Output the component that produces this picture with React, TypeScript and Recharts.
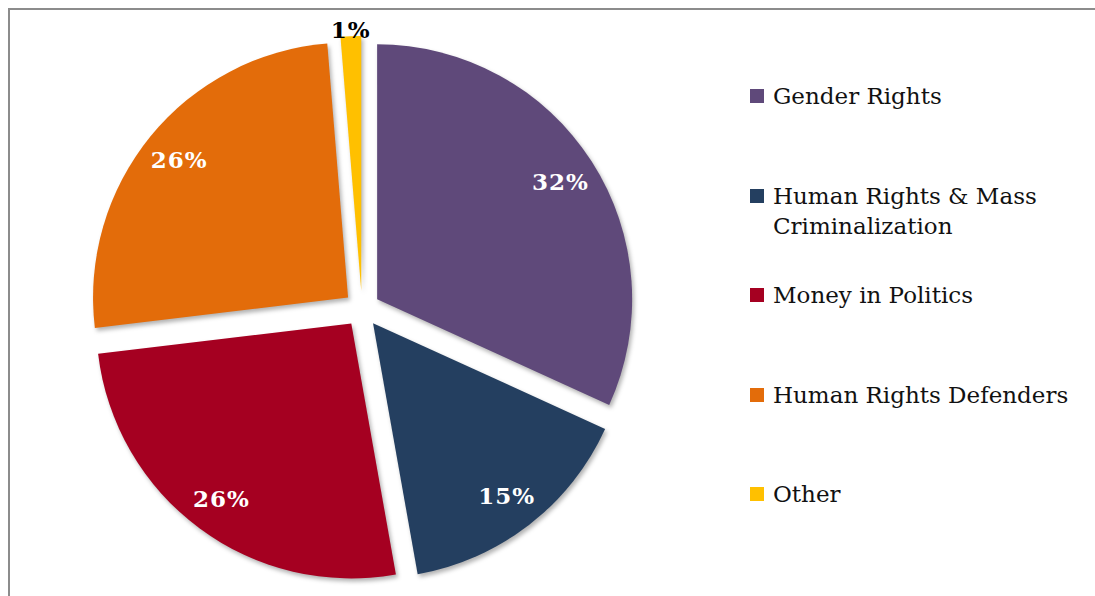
import { PieChart, Pie, Cell, Legend } from 'recharts';

/* Exploded pie of programme areas, legend on the right */

const CATEGORIES = [
  'Gender Rights',
  'Human Rights & Mass Criminalization',
  'Money in Politics',
  'Human Rights Defenders',
  'Other',
];
const SHARES = [31.8, 15.4, 25.9, 25.6, 1.3];
const COLORS = ['#5F497A', '#243F60', '#A50021', '#E36C0A', '#FFC000'];

const RAD = Math.PI / 180;
const CX = 347;
const CY = 294;
const R = 255;
const EXPLODE = 18;
const SERIF = '"DejaVu Serif", Georgia, serif';

const data = CATEGORIES.map((name, i) => ({ name, value: SHARES[i] }));
const total = SHARES.reduce((a, b) => a + b, 0);

// mid angle (recharts degrees) of every slice, used to push it outwards
function midAngleOf(i: number): number {
  const before = SHARES.slice(0, i).reduce((a, b) => a + b, 0);
  const frac = (before + SHARES[i] / 2) / total;
  return 90 - 360 * frac;
}

function makeLabel(slice: number) {
  return (p: any) => {
    if (p.index !== slice) return null;
    const small = p.value < 5;
    const r = small ? 262 : 218;
    const x = p.cx + Math.cos(-p.midAngle * RAD) * r;
    const y = p.cy + Math.sin(-p.midAngle * RAD) * r;
    return (
      <text
        x={x}
        y={y}
        textAnchor="middle"
        dominantBaseline="central"
        fill={small ? '#000000' : '#ffffff'}
        fontFamily={SERIF}
        fontWeight="bold"
        fontSize={23}
        letterSpacing={1}
      >
        {`${Math.round(p.value)}%`}
      </text>
    );
  };
}

function LegendBox() {
  return (
    <div style={{ fontFamily: SERIF, fontSize: 23, color: '#111' }}>
      {CATEGORIES.map((name, i) => (
        <div
          key={name}
          style={{ display: 'flex', alignItems: 'flex-start', height: 99.5 }}
        >
          <span
            style={{
              width: 14,
              height: 14,
              marginTop: 8,
              marginRight: 9,
              flex: '0 0 14px',
              background: COLORS[i],
            }}
          />
          <span style={{ lineHeight: '30px', width: 310 }}>{name}</span>
        </div>
      ))}
    </div>
  );
}

export default function App() {
  return (
    <div
      style={{
        position: 'absolute',
        left: 8,
        top: 8,
        width: 1085,
        height: 586,
        borderTop: '2px solid #8c8c8c',
        borderLeft: '2px solid #8c8c8c',
        background: '#fff',
      }}
    >
      <PieChart width={1085} height={586}>
        {SHARES.map((_, slice) => {
          const mid = midAngleOf(slice);
          const dx = Math.cos(mid * RAD) * EXPLODE;
          const dy = -Math.sin(mid * RAD) * EXPLODE;
          return (
            <Pie
              key={slice}
              data={data}
              dataKey="value"
              nameKey="name"
              cx={CX + dx}
              cy={CY + dy}
              outerRadius={R}
              startAngle={90}
              endAngle={-270}
              stroke="none"
              labelLine={false}
              label={makeLabel(slice)}
              isAnimationActive={false}
              legendType="none"
            >
              {data.map((d, j) => (
                <Cell
                  key={d.name}
                  fill={j === slice ? COLORS[j] : 'none'}
                  style={
                    j === slice
                      ? { filter: 'drop-shadow(2px 3px 2px rgba(0,0,0,0.3))' }
                      : undefined
                  }
                />
              ))}
            </Pie>
          );
        })}
        <Legend
          content={<LegendBox />}
          wrapperStyle={{ left: 740, top: 71, width: 340 }}
        />
      </PieChart>
    </div>
  );
}
